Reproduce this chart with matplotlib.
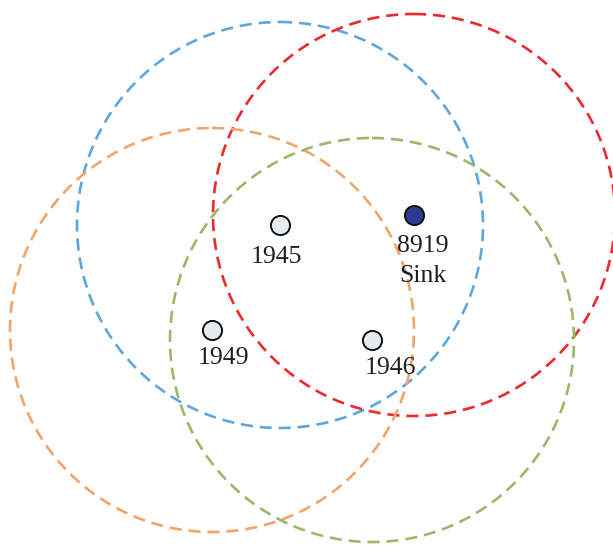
import matplotlib.pyplot as plt
from matplotlib.patches import Circle

plt.rcParams['font.family'] = ['Liberation Serif', 'DejaVu Serif']

# node positions (pixel-like units, y down) and communication ranges
names = ['1945', '8919\nSink', '1949', '1946']
node_x = [280, 414, 212, 372]
node_y = [225, 215, 330, 340]
ranges = [203, 201, 202, 202]
is_sink = [False, True, False, False]
ring_colors = ['#5fa6dc', '#ec2a2e', '#f0a56c', '#9cb76c']
label_dx = [-4, 9, 11, 18]
label_dy = [32, 46, 28, 28]

fig = plt.figure(figsize=(6.13, 5.45), dpi=100)
ax = fig.add_axes([0, 0, 1, 1])
ax.set_xlim(0, 613)
ax.set_ylim(545, 0)
ax.set_aspect('equal')
ax.axis('off')

for x, y, r, c in zip(node_x, node_y, ranges, ring_colors):
    circ = Circle((x, y), r, fill=False, edgecolor=c, lw=1.9,
                  linestyle=(0, (4.6, 2.6)), zorder=1)
    ax.add_patch(circ)

for x, y, s, name, dx, dy in zip(node_x, node_y, is_sink, names, label_dx, label_dy):
    fc = '#2e3a92' if s else '#e6ebf0'
    ax.scatter([x], [y], s=190, c=fc, edgecolors='#111111', linewidths=1.4, zorder=3)
    ax.text(x + dx, y + dy, name, ha='center', va='center', fontsize=18.5,
            color='#1e1e1e', linespacing=1.45, zorder=4)

fig.savefig('out.png', dpi=100)
